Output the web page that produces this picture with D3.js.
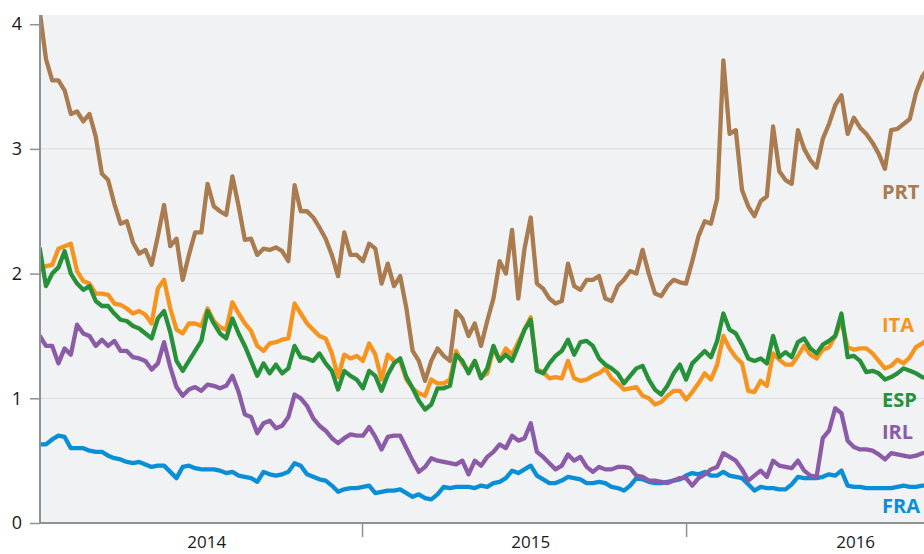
<!DOCTYPE html>
<html><head><meta charset="utf-8">
<script src="https://cdn.jsdelivr.net/npm/d3@7"></script>
<style>
body{margin:0;background:#fff}
svg{display:block}
text{font-family:"Open Sans","Noto Sans",sans-serif}
</style>
</head><body>
<svg id="chart" width="924" height="554"></svg>
<script>
// Weekly observation dates (Fridays), Jan 2014 – Sep 2016
const dates = d3.timeFriday.range(new Date(2014,0,3), new Date(2016,9,1));

// 10-year spread vs. Bund, percentage points
const PRT = [4.1,3.72,3.55,3.55,3.47,3.28,3.3,3.22,3.28,3.1,
2.8,2.75,2.56,2.4,2.42,2.25,2.16,2.19,2.07,2.3,
2.55,2.22,2.28,1.95,2.15,2.33,2.33,2.72,2.54,2.5,
2.47,2.78,2.54,2.27,2.28,2.15,2.2,2.19,2.21,2.18,
2.1,2.71,2.5,2.5,2.45,2.37,2.28,2.15,1.98,2.33,
2.15,2.15,2.1,2.24,2.2,1.92,2.08,1.9,1.98,1.72,
1.38,1.3,1.14,1.3,1.4,1.34,1.3,1.7,1.64,1.5,
1.6,1.42,1.62,1.8,2.1,2.0,2.35,1.8,2.2,2.45,
1.92,1.88,1.8,1.76,1.78,2.08,1.9,1.87,1.95,1.95,
1.98,1.8,1.78,1.9,1.95,2.02,2.0,2.19,2.0,1.84,
1.82,1.9,1.95,1.93,1.92,2.1,2.3,2.42,2.4,2.6,
3.71,3.12,3.15,2.67,2.54,2.46,2.58,2.62,3.18,2.82,
2.75,2.72,3.15,3.0,2.91,2.85,3.08,3.2,3.35,3.43,
3.12,3.25,3.17,3.12,3.05,2.96,2.84,3.15,3.16,3.2,
3.24,3.45,3.58,3.65];

const ITA = [2.03,2.06,2.07,2.2,2.22,2.24,2.02,1.94,1.92,1.84,
1.84,1.83,1.76,1.75,1.72,1.68,1.7,1.67,1.6,1.88,
1.95,1.72,1.55,1.52,1.6,1.6,1.58,1.72,1.62,1.57,
1.55,1.77,1.68,1.6,1.54,1.42,1.38,1.44,1.45,1.47,
1.48,1.76,1.68,1.6,1.55,1.5,1.48,1.36,1.17,1.35,
1.32,1.34,1.3,1.44,1.35,1.15,1.35,1.3,1.3,1.15,
1.08,1.04,1.02,1.15,1.12,1.12,1.15,1.38,1.28,1.22,
1.3,1.17,1.2,1.4,1.3,1.4,1.35,1.45,1.55,1.65,
1.23,1.21,1.16,1.17,1.16,1.3,1.16,1.14,1.15,1.18,
1.2,1.24,1.16,1.12,1.07,1.08,1.09,1.02,1.0,0.95,
0.97,1.02,1.06,1.06,0.99,1.05,1.12,1.2,1.15,1.27,
1.5,1.4,1.33,1.28,1.06,1.05,1.14,1.1,1.36,1.31,
1.27,1.27,1.34,1.42,1.35,1.32,1.39,1.41,1.5,1.62,
1.41,1.39,1.4,1.4,1.36,1.3,1.24,1.26,1.31,1.28,
1.33,1.41,1.44,1.48];

const ESP = [2.2,1.9,2.0,2.05,2.18,2.0,1.92,1.87,1.9,1.78,
1.74,1.74,1.68,1.63,1.62,1.58,1.56,1.52,1.48,1.64,
1.7,1.53,1.3,1.22,1.3,1.38,1.46,1.7,1.6,1.52,
1.48,1.64,1.52,1.42,1.3,1.18,1.28,1.2,1.27,1.2,
1.24,1.42,1.33,1.32,1.3,1.36,1.28,1.22,1.07,1.22,
1.18,1.15,1.08,1.22,1.18,1.06,1.19,1.28,1.32,1.17,
1.08,0.98,0.91,0.95,1.08,1.08,1.1,1.35,1.3,1.2,
1.3,1.16,1.24,1.42,1.3,1.35,1.3,1.42,1.55,1.63,
1.22,1.2,1.28,1.34,1.38,1.47,1.35,1.45,1.46,1.42,
1.32,1.27,1.24,1.2,1.12,1.18,1.24,1.26,1.15,1.07,
1.03,1.1,1.2,1.27,1.15,1.28,1.33,1.38,1.33,1.46,
1.68,1.55,1.52,1.43,1.32,1.3,1.32,1.28,1.5,1.33,
1.37,1.33,1.45,1.48,1.4,1.36,1.43,1.46,1.5,1.68,
1.33,1.34,1.3,1.21,1.22,1.2,1.15,1.17,1.2,1.24,
1.22,1.2,1.17,1.16];

const IRL = [1.5,1.42,1.42,1.28,1.4,1.35,1.59,1.52,1.5,1.42,
1.47,1.42,1.46,1.38,1.38,1.33,1.32,1.3,1.23,1.28,
1.45,1.25,1.09,1.02,1.07,1.09,1.06,1.11,1.1,1.08,
1.1,1.18,1.05,0.87,0.85,0.72,0.8,0.82,0.76,0.78,
0.85,1.03,1.0,0.94,0.84,0.78,0.74,0.68,0.64,0.68,
0.71,0.7,0.7,0.77,0.69,0.59,0.69,0.7,0.7,0.6,
0.5,0.41,0.45,0.52,0.5,0.49,0.48,0.47,0.5,0.39,
0.5,0.46,0.53,0.57,0.63,0.6,0.7,0.66,0.68,0.8,
0.57,0.53,0.48,0.43,0.46,0.55,0.5,0.53,0.45,0.41,
0.45,0.43,0.43,0.45,0.45,0.44,0.38,0.37,0.34,0.34,
0.33,0.32,0.34,0.36,0.36,0.3,0.36,0.39,0.43,0.45,
0.56,0.53,0.5,0.43,0.34,0.38,0.42,0.37,0.5,0.46,
0.45,0.44,0.5,0.42,0.38,0.37,0.68,0.74,0.92,0.88,
0.66,0.61,0.59,0.59,0.58,0.55,0.51,0.56,0.55,0.54,
0.53,0.54,0.56,0.56];

const FRA = [0.63,0.63,0.67,0.7,0.69,0.6,0.6,0.6,0.58,0.57,
0.57,0.54,0.52,0.51,0.49,0.48,0.49,0.47,0.45,0.46,
0.46,0.41,0.36,0.45,0.46,0.44,0.43,0.43,0.43,0.42,
0.4,0.41,0.38,0.37,0.36,0.33,0.41,0.39,0.38,0.39,
0.41,0.48,0.46,0.39,0.37,0.35,0.34,0.3,0.25,0.27,
0.28,0.28,0.29,0.3,0.24,0.25,0.26,0.26,0.27,0.24,
0.21,0.23,0.2,0.19,0.23,0.29,0.28,0.29,0.29,0.29,
0.28,0.3,0.29,0.32,0.33,0.36,0.42,0.4,0.43,0.46,
0.38,0.35,0.32,0.32,0.34,0.37,0.36,0.35,0.32,0.32,
0.33,0.32,0.29,0.28,0.26,0.3,0.36,0.35,0.33,0.32,
0.32,0.33,0.34,0.35,0.38,0.4,0.39,0.41,0.38,0.38,
0.41,0.38,0.37,0.36,0.31,0.26,0.29,0.28,0.28,0.27,
0.27,0.31,0.37,0.36,0.36,0.36,0.37,0.39,0.38,0.42,
0.3,0.29,0.29,0.28,0.28,0.28,0.28,0.28,0.29,0.3,
0.29,0.29,0.3,0.3];

const seriesNames = ["FRA","IRL","ITA","ESP","PRT"];
const seriesValues = {FRA, IRL, ITA, ESP, PRT};
const colors = {PRT:"#a97b4e", ITA:"#f7941d", ESP:"#27913a", IRL:"#8b5ba7", FRA:"#0a8fd6"};
const labelValues = {PRT:2.6, ITA:1.53, ESP:0.93, IRL:0.67, FRA:0.08};
const yTicks = [0,1,2,3,4];
const gridTicks = [1,2,3];
const yearLabels = [2014, 2015, 2016];
const yearTicks = [2015, 2016];

const svg = d3.select("#chart");
const L = 40, R = 924, T = 15, B = 523;

const x = d3.scaleTime()
  .domain([new Date(2014,0,1), new Date(2016,8,25)])
  .range([38, 924]);
const y = d3.scaleLinear().domain([0,4]).range([B, 24.2]);

// plot background
svg.append("rect").attr("x", L).attr("y", T).attr("width", R-L).attr("height", B-T)
  .attr("fill", "#f0f2f4");

// gridlines
svg.append("g").selectAll("line").data(gridTicks).join("line")
  .attr("x1", L).attr("x2", R)
  .attr("y1", d => y(d)).attr("y2", d => y(d))
  .attr("stroke", "#dcdee1").attr("stroke-width", 1.2);

svg.append("clipPath").attr("id","clip").append("rect")
  .attr("x", L).attr("y", T).attr("width", R-L).attr("height", B-T);

const line = d3.line()
  .x((d,i) => x(dates[i]))
  .y(d => y(d))
  .curve(d3.curveLinear);

const g = svg.append("g").attr("clip-path","url(#clip)");
seriesNames.forEach(name => {
  g.append("path")
    .datum(seriesValues[name])
    .attr("d", line)
    .attr("fill","none")
    .attr("stroke", colors[name])
    .attr("stroke-width", 4.3)
    .attr("stroke-linejoin","round")
    .attr("stroke-linecap","round");
});

// y axis
const yAxis = d3.axisLeft(y).tickValues(yTicks).tickSize(10).tickPadding(8).tickFormat(d3.format("d"));
const ya = svg.append("g").attr("transform", `translate(${L},0)`).call(yAxis);
ya.select(".domain").attr("stroke","#8f9194").attr("stroke-width",2)
  .attr("d", `M-0,${B}V${T}`);
ya.selectAll(".tick line").attr("stroke","#8f9194").attr("stroke-width",1.5);
ya.selectAll(".tick text").attr("font-size",18).attr("fill","#1a1a1a")
  .attr("font-family","'Open Sans','Noto Sans',sans-serif");

// x axis
const xAxis = d3.axisBottom(x)
  .tickValues(yearTicks.map(yr => new Date(yr,0,1)))
  .tickSize(14).tickFormat("");
const xa = svg.append("g").attr("transform", `translate(0,${B})`).call(xAxis);
xa.select(".domain").attr("stroke","#8f9194").attr("stroke-width",2)
  .attr("d", `M${L},0H${R}`);
xa.selectAll(".tick line").attr("stroke","#8f9194").attr("stroke-width",1.5);

svg.append("g").selectAll("text").data(yearLabels).join("text")
  .attr("x", d => x(new Date(d,6,10)))
  .attr("y", 548)
  .attr("text-anchor","middle")
  .attr("font-size",17)
  .attr("fill","#1a1a1a")
  .text(d => d);

// series labels
svg.append("g").selectAll("text").data(["PRT","ITA","ESP","IRL","FRA"]).join("text")
  .attr("x", 882)
  .attr("y", d => y(labelValues[d]))
  .attr("font-size",20)
  .attr("font-weight",700)
  .attr("fill", d => colors[d])
  .text(d => d);
</script>
</body></html>
